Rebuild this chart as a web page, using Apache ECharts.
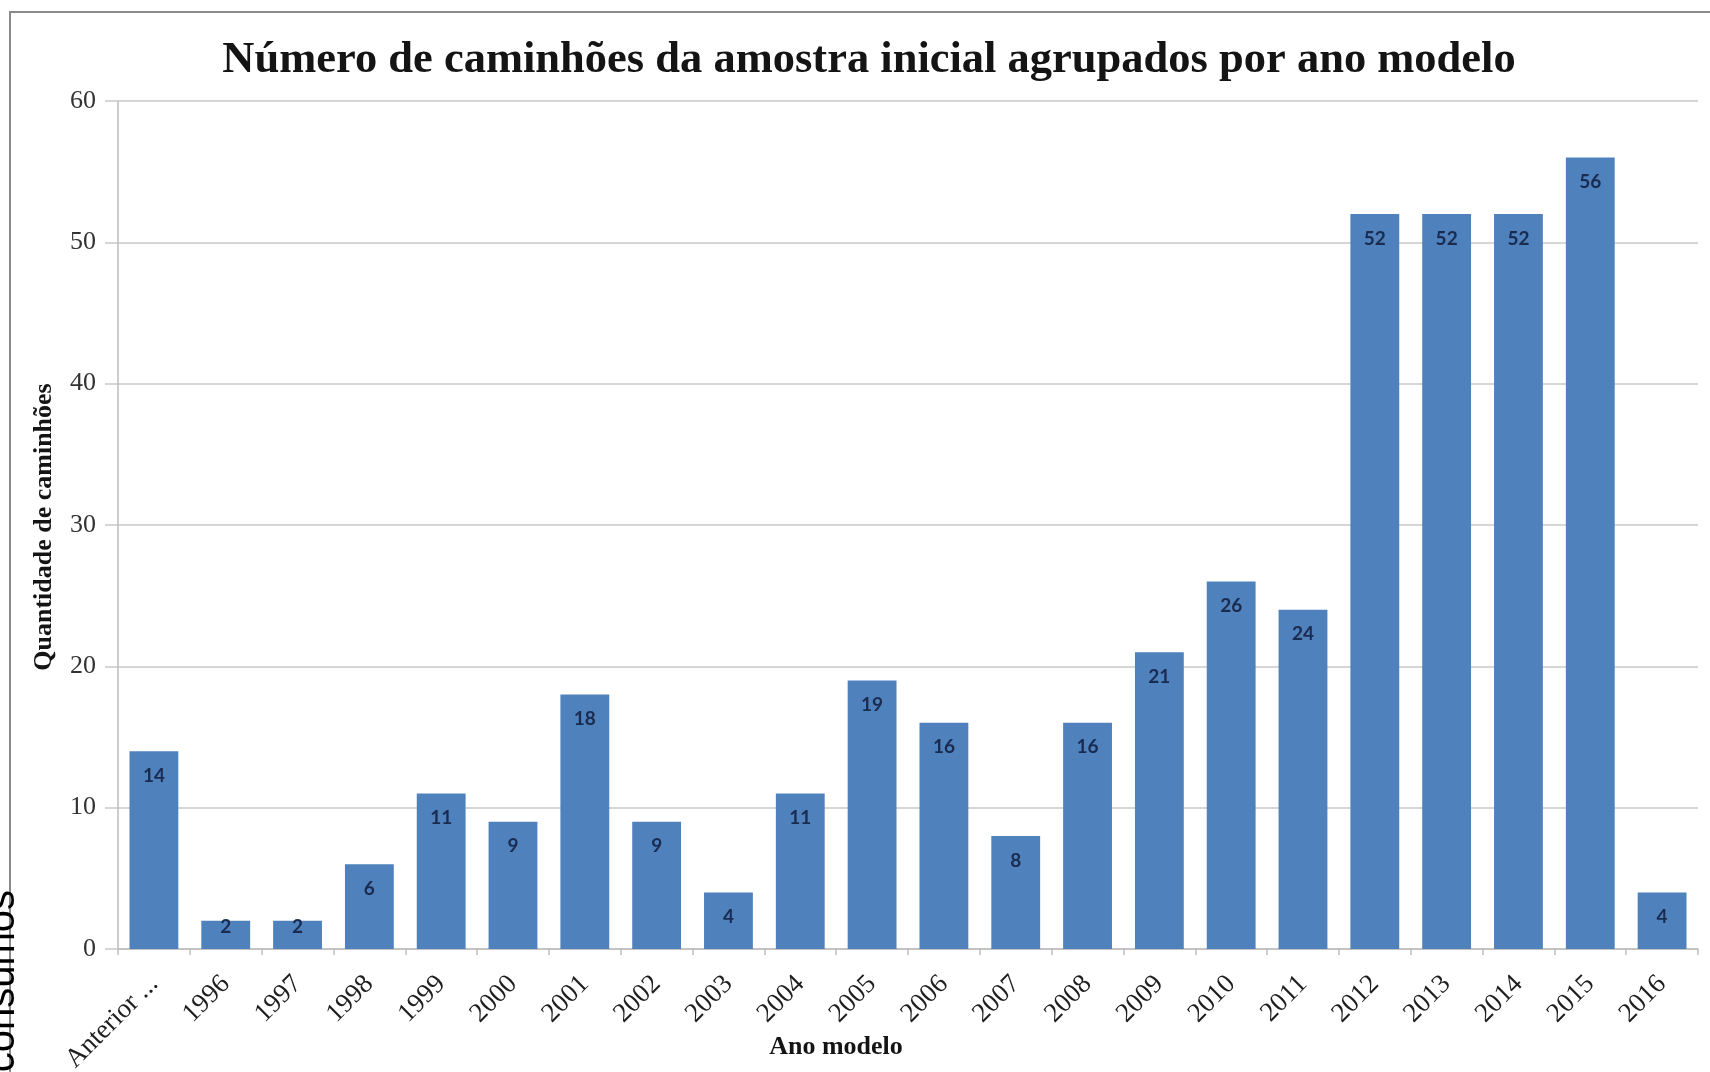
<!DOCTYPE html>
<html>
<head>
<meta charset="utf-8">
<script src="https://cdn.jsdelivr.net/npm/echarts@6/dist/echarts.min.js"></script>
<style>
  html, body { margin: 0; padding: 0; background: #ffffff; }
  #chart { width: 1710px; height: 1072px; }
</style>
</head>
<body>
<div id="chart"></div>
<script>
// Ano modelo (categorias do eixo X)
const anosModelo = ['Anterior ...', '1996', '1997', '1998', '1999', '2000', '2001', '2002', '2003',
  '2004', '2005', '2006', '2007', '2008', '2009', '2010', '2011', '2012', '2013', '2014', '2015', '2016'];

// Quantidade de caminhões por ano modelo
const quantidades = [14, 2, 2, 6, 11, 9, 18, 9, 4, 11, 19, 16, 8, 16, 21, 26, 24, 52, 52, 52, 56, 4];

// Escala do eixo Y
const eixoY = { min: 0, max: 60, intervalo: 10 };

const serif = '"Liberation Serif", "Times New Roman", serif';

// Rótulos dentro do topo da barra; em barras muito baixas o rótulo sobe até o topo
const dadosBarras = quantidades.map(v => ({
  value: v,
  label: { distance: v < 3 ? -3 : 15 }
}));

const chart = echarts.init(document.getElementById('chart'), null, { renderer: 'canvas' });

chart.setOption({
  backgroundColor: '#ffffff',
  animation: false,
  title: {
    text: 'Número de caminhões da amostra inicial agrupados por ano modelo',
    left: 864,
    top: 33,
    textAlign: 'center',
    textStyle: { fontFamily: serif, fontWeight: 'bold', fontSize: 44.5, color: '#141414' }
  },
  grid: { left: 118, right: 12, top: 101, bottom: 123, containLabel: false, outerBoundsMode: 'none' },
  xAxis: {
    type: 'category',
    data: anosModelo,
    boundaryGap: true,
    axisLine: { show: true, lineStyle: { color: '#bdbdbd', width: 1.5 } },
    axisTick: { show: true, alignWithLabel: false, length: 6, lineStyle: { color: '#bdbdbd', width: 1.5 } },
    axisLabel: {
      interval: 0,
      rotate: 45,
      margin: 31,
      fontFamily: serif,
      fontSize: 27,
      color: '#1e1e1e'
    }
  },
  yAxis: {
    type: 'value',
    min: eixoY.min,
    max: eixoY.max,
    interval: eixoY.intervalo,
    axisLine: { show: true, lineStyle: { color: '#bdbdbd', width: 1.5 } },
    axisTick: { show: true, length: 13, lineStyle: { color: '#c8c8c8', width: 1.5 } },
    splitLine: { show: true, lineStyle: { color: '#d6d6d6', width: 2 } },
    axisLabel: {
      margin: 22,
      fontFamily: serif,
      fontSize: 26,
      color: '#333333'
    }
  },
  series: [{
    type: 'bar',
    data: dadosBarras,
    barCategoryGap: '32%',
    itemStyle: { color: '#4f81bd' },
    label: {
      show: true,
      position: 'insideTop',
      fontFamily: 'Lato, "Open Sans", sans-serif',
      fontWeight: 'bold',
      fontSize: 19,
      color: '#1a2b50'
    }
  }],
  graphic: [
    {
      // moldura do gráfico
      type: 'rect',
      shape: { x: 10, y: 12, width: 1800, height: 1200 },
      style: { fill: 'none', stroke: '#8a8a8a', lineWidth: 2 },
      silent: true
    },
    {
      type: 'text',
      x: 44,
      y: 527,
      rotation: Math.PI / 2,
      style: {
        text: 'Quantidade de caminhões',
        font: 'bold 26px ' + serif,
        fill: '#141414',
        align: 'center',
        verticalAlign: 'middle'
      }
    },
    {
      type: 'text',
      x: 836,
      y: 1047,
      style: {
        text: 'Ano modelo',
        font: 'bold 26px ' + serif,
        fill: '#141414',
        align: 'center',
        verticalAlign: 'middle'
      }
    },
    {
      type: 'text',
      x: 23,
      y: 890,
      rotation: Math.PI / 2,
      style: {
        text: 'consumos',
        font: '40px "Liberation Sans", Arial, sans-serif',
        fill: '#000000',
        align: 'right',
        verticalAlign: 'bottom'
      }
    }
  ]
});
</script>
</body>
</html>
